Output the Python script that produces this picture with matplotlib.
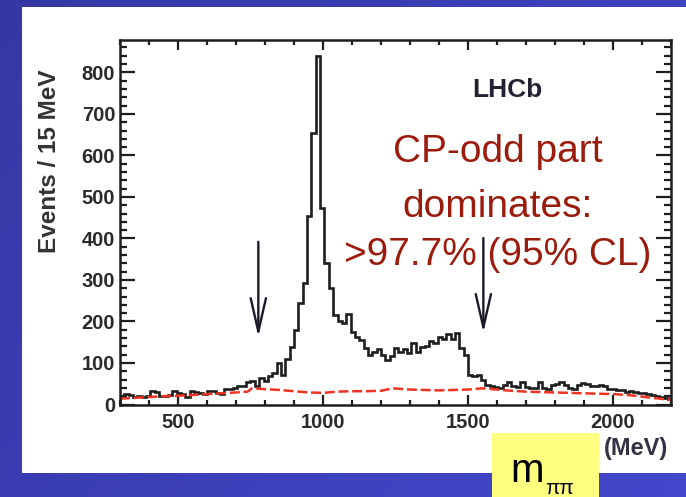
import numpy as np
import matplotlib
matplotlib.use('Agg')
import matplotlib.pyplot as plt
from matplotlib.patches import Rectangle
from matplotlib.ticker import MultipleLocator

plt.rcParams['font.family'] = ['Liberation Sans', 'DejaVu Sans']

# ---------------- data ----------------
bin_start = 300
bin_width = 15
counts = [20, 26, 22, 18, 20, 19, 21, 33, 30, 20, 21, 22, 33, 27, 25, 19, 32, 30, 27, 26,
          33, 33, 28, 26, 37, 37, 40, 45, 45, 53, 57, 45, 63, 57, 69, 77, 99, 71, 109, 139,
          180, 244, 293, 455, 654, 840, 474, 342, 281, 216, 200, 196, 218, 175, 163, 155, 135, 119, 127, 133,
          119, 107, 117, 135, 127, 133, 125, 147, 127, 139, 140, 154, 147, 163, 157, 171, 157, 173, 135, 119,
          71, 68, 70, 60, 48, 45, 42, 40, 46, 53, 44, 42, 53, 42, 40, 40, 53, 40, 38, 47,
          50, 53, 47, 40, 38, 47, 51, 50, 44, 44, 48, 44, 38, 38, 36, 35, 31, 32, 30, 28,
          27, 25, 22, 20, 18, 16, 14]

bkg_x = [300, 350, 400, 450, 500, 550, 600, 650, 700, 740, 755, 800, 850, 900, 950, 1000,
         1050, 1100, 1150, 1200, 1240, 1300, 1350, 1400, 1450, 1500, 1550, 1600, 1650, 1700,
         1750, 1800, 1850, 1900, 1950, 2000, 2050, 2100, 2150, 2200]
bkg_y = [14, 16, 18, 20, 21, 23, 25, 27, 29, 31, 39, 37, 35, 32, 29, 28,
         31, 32, 32, 33, 39, 36, 35, 34, 35, 36, 39, 36, 33, 31,
         30, 29, 28, 27, 26, 25, 23, 19, 15, 11]

arrow_x = [777, 1553]
arrow_top = [392, 401]
arrow_tip = [163, 173]

x_major = 500
x_minor = 100
y_major = 100
y_minor = 20

# ---------------- figure ----------------
W, H = 686, 497
fig = plt.figure(figsize=(W / 100, H / 100), dpi=100)

# blue gradient background
bg = fig.add_axes([0, 0, 1, 1], zorder=-10)
xx, yy = np.meshgrid(np.linspace(0, 1, 200), np.linspace(0, 1, 200))
t = (0.65 * xx + 0.35 * yy)[..., None]
c0 = np.array([0.21, 0.22, 0.64])
c1 = np.array([0.26, 0.28, 0.80])
bg.imshow(c0 + t * (c1 - c0), aspect='auto', extent=[0, 1, 0, 1])
bg.set_axis_off()

# white panel
fig.add_artist(Rectangle((22 / W, 1 - 473 / H), 1 - 22 / W, (473 - 7) / H,
                         transform=fig.transFigure, facecolor='white',
                         edgecolor='none', zorder=-5))

ax = fig.add_axes([120 / W, 1 - 404.5 / H, 551 / W, 364.5 / H])

edges = bin_start + bin_width * np.arange(len(counts) + 1)
ax.stairs(counts, edges, color='#1e1e1e', lw=1.9)
ax.plot(bkg_x, bkg_y, color='#ee3322', lw=1.8, ls=(0, (4, 1.5)))

for xa, yt, yb in zip(arrow_x, arrow_top, arrow_tip):
    ax.annotate('', xy=(xa, yb), xytext=(xa, yt),
                arrowprops=dict(arrowstyle='->,head_length=2.4,head_width=0.55',
                                color='#1a1a2a', lw=1.7, shrinkA=0, shrinkB=0))

ax.set_xlim(300, 2200)
ax.set_ylim(0, 878)
ax.xaxis.set_major_locator(MultipleLocator(x_major))
ax.xaxis.set_minor_locator(MultipleLocator(x_minor))
ax.yaxis.set_major_locator(MultipleLocator(y_major))
ax.yaxis.set_minor_locator(MultipleLocator(y_minor))

ax.tick_params(which='both', direction='in', top=True, right=True, width=1.6,
               color='#1e1e1e', labelcolor='#2a2a2a', labelsize=14.5)
ax.tick_params(axis='x', which='major', length=7.5, pad=6)
ax.tick_params(axis='x', which='minor', length=3.8)
ax.tick_params(axis='y', which='major', length=10.5, pad=3.5)
ax.tick_params(axis='y', which='minor', length=5.2)
for sp in ax.spines.values():
    sp.set_linewidth(1.8)
    sp.set_color('#1e1e1e')
plt.setp(ax.get_xticklabels(), fontweight='bold')
plt.setp(ax.get_yticklabels(), fontweight='bold')

# texts
fig.text(50 / W, 1 - 161 / H, 'Events / 15 MeV', rotation=90, ha='center', va='center',
         fontsize=17.5, fontweight='bold', color='#333333')
fig.text(636 / W, 1 - 448 / H, '(MeV)', ha='center', va='center',
         fontsize=17, fontweight='bold', color='#333344')
fig.text(507 / W, 1 - 90 / H, 'LHCb', ha='center', va='center',
         fontsize=19, fontweight='bold', color='#222233')
red = '#9b1b0c'
fig.text(497.5 / W, 1 - 161.7 / H, 'CP-odd part', ha='center', va='baseline', fontsize=28, color=red)
fig.text(497.5 / W, 1 - 216.7 / H, 'dominates:', ha='center', va='baseline', fontsize=28, color=red)
fig.text(497.5 / W, 1 - 265 / H, '>97.7% (95% CL)', ha='center', va='baseline', fontsize=28, color=red)

# yellow label box
fig.add_artist(Rectangle((491.7 / W, 0), (599 - 491.7) / W, (H - 433.3) / H,
                         transform=fig.transFigure, facecolor='#ffff80',
                         edgecolor='none', zorder=5))
fig.text(510 / W, 1 - 482 / H, 'm', ha='left', va='baseline', fontsize=29,
         color='black', zorder=6)
fig.text(545 / W, 1 - 494 / H, 'ππ', ha='left', va='baseline', fontsize=15,
         color='black', zorder=6)

fig.savefig('out.png', dpi=100)
